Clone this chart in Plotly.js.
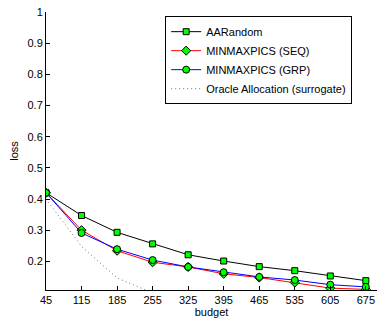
<!DOCTYPE html>
<html>
<head>
<meta charset="utf-8">
<script src="https://cdn.plot.ly/plotly-3.0.1.min.js"></script>
<style>html,body{margin:0;padding:0;background:#fff;}#chart{width:377px;height:321px;}</style>
</head>
<body>
<div id="chart"></div>
<script>
const budget = [45, 115, 185, 255, 325, 395, 465, 535, 605, 675];
const aarandom = [0.420, 0.347, 0.293, 0.256, 0.221, 0.201, 0.183, 0.170, 0.153, 0.138];
const seq = [0.420, 0.300, 0.234, 0.197, 0.182, 0.160, 0.148, 0.132, 0.114, 0.110];
const grp = [0.420, 0.291, 0.239, 0.204, 0.182, 0.165, 0.150, 0.140, 0.125, 0.118];
const oracleBudget = [45, 115, 185, 255];
const oracle = [0.400, 0.248, 0.147, 0.098];
const names = ["AARandom", "MINMAXPICS (SEQ)", "MINMAXPICS (GRP)", "Oracle Allocation (surrogate)"];
const xTicks = budget;
const yTicks = [0.2, 0.3, 0.4, 0.5, 0.6, 0.7, 0.8, 0.9, 1];
const yTickText = ["0.2", "0.3", "0.4", "0.5", "0.6", "0.7", "0.8", "0.9", "1"];

const traces = [
  {x: budget, y: aarandom, name: names[0], mode: "lines+markers",
   line: {color: "#000000", width: 1},
   marker: {symbol: "square", size: 6, color: "#00ff00", line: {color: "#000000", width: 1}}},
  {x: budget, y: seq, name: names[1], mode: "lines+markers",
   line: {color: "#ff0000", width: 1},
   marker: {symbol: "diamond", size: 7, color: "#00ff00", line: {color: "#000000", width: 1}}},
  {x: budget, y: grp, name: names[2], mode: "lines+markers",
   line: {color: "#0000ff", width: 1},
   marker: {symbol: "circle", size: 7, color: "#00ff00", line: {color: "#000000", width: 1}}},
  {x: oracleBudget, y: oracle, name: names[3], mode: "lines",
   line: {color: "#777777", width: 1, dash: "1px,3px"}}
];

const layout = {
  width: 377, height: 321,
  margin: {l: 46, r: 0, t: 12, b: 31, pad: 0},
  paper_bgcolor: "#ffffff", plot_bgcolor: "#ffffff",
  font: {family: "Liberation Sans, Arial, sans-serif", size: 11, color: "#000000"},
  showlegend: true,
  legend: {x: 0.36, y: 0.985, xanchor: "left", yanchor: "top",
           bordercolor: "#000000", borderwidth: 1, bgcolor: "#ffffff",
           font: {size: 11}, tracegroupgap: 0, itemwidth: 30},
  xaxis: {range: [45, 697], tickvals: xTicks, ticktext: xTicks.map(String),
          ticks: "inside", ticklen: 4, tickcolor: "#000", showgrid: false, zeroline: false,
          showline: true, linecolor: "#000", linewidth: 1,
          title: {text: "budget", font: {size: 11}, standoff: 3}},
  yaxis: {range: [0.108, 1], tickvals: yTicks, ticktext: yTickText,
          ticks: "inside", ticklen: 4, tickcolor: "#000", showgrid: false, zeroline: false,
          showline: true, linecolor: "#000", linewidth: 1,
          title: {text: "loss", font: {size: 11}, standoff: 6}}
};

Plotly.newPlot("chart", traces, layout, {staticPlot: true, displayModeBar: false});
</script>
</body>
</html>
